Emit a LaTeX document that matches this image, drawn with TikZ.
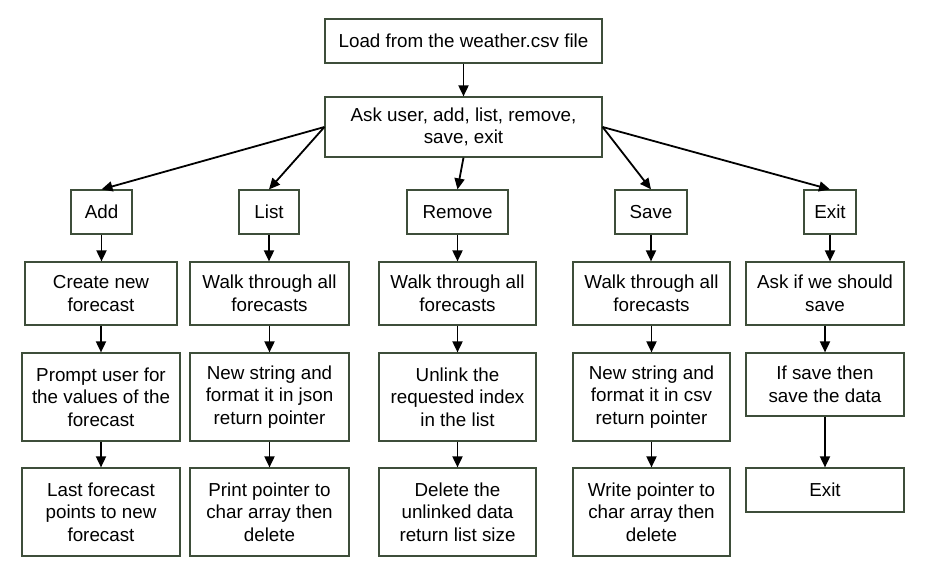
\documentclass[tikz,border=0pt]{standalone}
\usepackage{fontspec}
\setmainfont{Liberation Sans}
\usetikzlibrary{arrows.meta}
\definecolor{boxline}{RGB}{62,78,58}
\begin{document}
\begin{tikzpicture}[x=1pt,y=-1pt,
  box/.style={draw=boxline,line width=1.2pt,fill=white,align=center,inner sep=0pt,
    font=\fontsize{18.8}{22.5}\selectfont},
  arr/.style={black,line width=1.8pt,-{Triangle[length=11pt,width=10pt]}}]
\useasboundingbox[fill=white] (0,0) rectangle (927,576);
% top
\node[box,minimum width=277pt,minimum height=44pt] (load) at (463.5,41) {Load from the weather.csv file};
\node[box,minimum width=277pt,minimum height=60pt] (ask) at (463.5,127) {Ask user, add, list, remove,\\save, exit};
% row 1
\node[box,minimum width=61pt,minimum height=44pt] (add) at (101.5,212) {Add};
\node[box,minimum width=60pt,minimum height=44pt] (list) at (269,212) {List};
\node[box,minimum width=101pt,minimum height=44pt] (remove) at (457.5,212) {Remove};
\node[box,minimum width=72pt,minimum height=44pt] (save) at (651,212) {Save};
\node[box,minimum width=52pt,minimum height=44pt] (exitA) at (830,212) {Exit};
% row 2
\node[box,minimum width=152pt,minimum height=63pt] (create) at (101,293.5) {Create new\\forecast};
\node[box,minimum width=159pt,minimum height=63pt] (walkA) at (269.5,293.5) {Walk through all\\forecasts};
\node[box,minimum width=157pt,minimum height=63pt] (walkB) at (457.5,293.5) {Walk through all\\forecasts};
\node[box,minimum width=157pt,minimum height=63pt] (walkC) at (651.5,293.5) {Walk through all\\forecasts};
\node[box,minimum width=158pt,minimum height=63pt] (askif) at (825,293.5) {Ask if we should\\save};
% row 3
\node[box,minimum width=158pt,minimum height=88pt] (prompt) at (101,397) {Prompt user for\\the values of the\\forecast};
\node[box,minimum width=159pt,minimum height=88pt] (newA) at (269.5,397) {New string and\\format it in json\\return pointer};
\node[box,minimum width=157pt,minimum height=88pt] (unlink) at (457.5,397) {Unlink the\\requested index\\in the list};
\node[box,minimum width=157pt,minimum height=88pt] (newB) at (651.5,397) {New string and\\format it in csv\\return pointer};
\node[box,minimum width=158pt,minimum height=63pt] (ifsave) at (825,384.5) {If save then\\save the data};
% row 4
\node[box,minimum width=158pt,minimum height=88pt] (last) at (101,512) {Last forecast\\points to new\\forecast};
\node[box,minimum width=159pt,minimum height=88pt] (print) at (269.5,512) {Print pointer to\\char array then\\delete};
\node[box,minimum width=157pt,minimum height=88pt] (delete) at (457.5,512) {Delete the\\unlinked data\\return list size};
\node[box,minimum width=157pt,minimum height=88pt] (write) at (651.5,512) {Write pointer to\\char array then\\delete};
\node[box,minimum width=158pt,minimum height=44pt] (exitB) at (825,490) {Exit};
% connectors
\draw[arr] (load) -- (ask);
\draw[arr] (ask.west) -- (add.north);
\draw[arr] (ask.west) -- (list.north);
\draw[arr] (ask.south) -- (remove.north);
\draw[arr] (ask.east) -- (save.north);
\draw[arr] (ask.east) -- (exitA.north);
\draw[arr] (add) -- (add|-create.north);
\draw[arr] (list) -- (list|-walkA.north);
\draw[arr] (remove) -- (remove|-walkB.north);
\draw[arr] (save) -- (save|-walkC.north);
\draw[arr] (exitA) -- (exitA|-askif.north);
\draw[arr] (create) -- (create|-prompt.north);
\draw[arr] (walkA) -- (walkA|-newA.north);
\draw[arr] (walkB) -- (walkB|-unlink.north);
\draw[arr] (walkC) -- (walkC|-newB.north);
\draw[arr] (askif) -- (askif|-ifsave.north);
\draw[arr] (prompt) -- (prompt|-last.north);
\draw[arr] (newA) -- (newA|-print.north);
\draw[arr] (unlink) -- (unlink|-delete.north);
\draw[arr] (newB) -- (newB|-write.north);
\draw[arr] (ifsave) -- (exitB);
\end{tikzpicture}
\end{document}
